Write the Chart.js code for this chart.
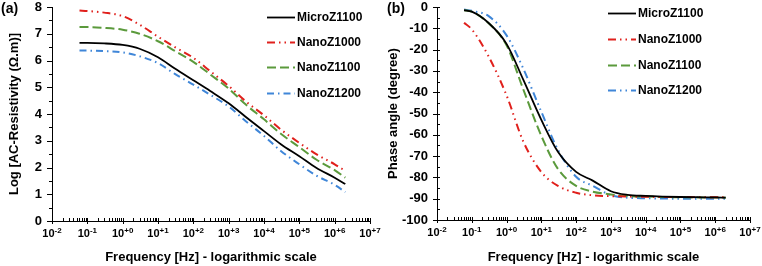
<!DOCTYPE html>
<html>
<head>
<meta charset="utf-8">
<script src="https://cdn.jsdelivr.net/npm/chart.js@4.4.0/dist/chart.umd.min.js"></script>
<style>
  html, body { margin: 0; padding: 0; background: #fff; }
  #wrap { position: relative; width: 762px; height: 266px; }
  .panel { position: absolute; top: 0; width: 381px; height: 266px; }
</style>
</head>
<body>
<div id="wrap">
  <div class="panel" style="left:0"><canvas id="chart-a" width="381" height="266"></canvas></div>
  <div class="panel" style="left:381px"><canvas id="chart-b" width="381" height="266"></canvas></div>
</div>
<script>
// Frequencies (Hz) the curves are sampled at
var frequency = [0.06, 0.1, 0.3, 1, 3, 10, 30, 100, 300, 1e3, 3e3, 1e4, 3e4, 1e5, 3e5, 1e6, 2e6];
// decade exponents shown on the x axis
var decades = [-2, -1, 0, 1, 2, 3, 4, 5, 6, 7];
var seriesNames = ['MicroZ1100', 'NanoZ1000', 'NanoZ1100', 'NanoZ1200'];

// (a) Log AC-resistivity
var resMicroZ1100 = [6.66, 6.66, 6.64, 6.58, 6.44, 6.12, 5.70, 5.26, 4.86, 4.40, 3.90, 3.36, 2.87, 2.42, 1.99, 1.62, 1.38];
var resNanoZ1000  = [7.87, 7.85, 7.79, 7.66, 7.34, 6.89, 6.50, 6.10, 5.60, 5.05, 4.48, 3.95, 3.42, 2.92, 2.50, 2.12, 1.87];
var resNanoZ1100  = [7.25, 7.25, 7.22, 7.15, 7.00, 6.72, 6.36, 5.95, 5.48, 4.95, 4.36, 3.80, 3.26, 2.76, 2.30, 1.90, 1.62];
var resNanoZ1200  = [6.37, 6.37, 6.35, 6.30, 6.16, 5.90, 5.50, 5.10, 4.72, 4.28, 3.74, 3.18, 2.62, 2.12, 1.70, 1.35, 1.08];

// (b) Phase angle
var phaseMicroZ1100 = [-1.5, -2.2, -7.4, -17.3, -34, -53, -68, -77.4, -81.5, -86.5, -88.2, -88.7, -89, -89.2, -89.3, -89.4, -89.5];
var phaseNanoZ1000  = [-7.4, -10.5, -23, -41.5, -63, -77.5, -84, -87.2, -88.4, -88.8, -89, -89.1, -89.2, -89.2, -89.3, -89.3, -89.3];
var phaseNanoZ1100  = [-1.5, -2.2, -7.5, -18, -38.5, -60.5, -76, -84, -86.7, -88, -88.7, -89, -89.2, -89.3, -89.4, -89.4, -89.5];
var phaseNanoZ1200  = [-1.2, -1.8, -4.2, -13.3, -28.8, -49.2, -67, -79.7, -84, -88.3, -89.5, -89.8, -89.9, -90, -90, -90, -90];

var FONT = 'Arial, "Liberation Sans", sans-serif';
var colors = ['#000000', '#e0201c', '#5b9a3c', '#3f86d8'];

function points(values) {
  return frequency.map(function (f, i) { return { x: f, y: values[i] }; });
}

function makeDatasets(series, dashes) {
  return series.map(function (values, i) {
    return {
      label: seriesNames[i],
      data: points(values),
      borderColor: colors[i],
      backgroundColor: colors[i],
      borderWidth: i === 0 ? 1.8 : 2,
      borderDash: dashes[i],
      borderCapStyle: 'butt',
      pointRadius: 0,
      cubicInterpolationMode: 'monotone',
      fill: false
    };
  });
}

// ticks, superscript tick labels, panel letter and legend inside the plot
var axisDecor = {
  id: 'axisDecor',
  afterDraw: function (chart, args, o) {
    var ctx = chart.ctx, xs = chart.scales.x, ys = chart.scales.y, a = chart.chartArea;
    ctx.save();
    ctx.strokeStyle = '#000';
    ctx.lineWidth = 1;
    ctx.setLineDash([]);
    ctx.beginPath();
    decades.forEach(function (e, i) {
      var px = Math.round(xs.getPixelForValue(Math.pow(10, e))) + 0.5;
      ctx.moveTo(px, a.bottom - 3); ctx.lineTo(px, a.bottom + 3);
      if (i < decades.length - 1) {
        for (var m = 2; m < 10; m++) {
          var mx = Math.round(xs.getPixelForValue(m * Math.pow(10, e))) + 0.5;
          ctx.moveTo(mx, a.bottom); ctx.lineTo(mx, a.bottom - 3);
        }
      }
    });
    var yt = ys.ticks;
    yt.forEach(function (t, i) {
      var py = Math.round(ys.getPixelForValue(t.value)) + 0.5;
      ctx.moveTo(a.left - o.yMajor[0], py); ctx.lineTo(a.left + o.yMajor[1], py);
      if (i < yt.length - 1) {
        var my = Math.round(ys.getPixelForValue((t.value + yt[i + 1].value) / 2)) + 0.5;
        ctx.moveTo(a.left - o.yMinor[0], my); ctx.lineTo(a.left + o.yMinor[1], my);
      }
    });
    ctx.stroke();

    // x tick labels: 10 with a raised exponent
    ctx.fillStyle = '#000';
    ctx.textAlign = 'left';
    ctx.textBaseline = 'alphabetic';
    decades.forEach(function (e) {
      var sup = (e < 0 ? '-' : '+') + Math.abs(e);
      ctx.font = 'bold 11px ' + FONT; var w1 = ctx.measureText('10').width;
      ctx.font = 'bold 8px ' + FONT; var w2 = ctx.measureText(sup).width;
      var left = xs.getPixelForValue(Math.pow(10, e)) - (w1 + w2) / 2;
      ctx.font = 'bold 11px ' + FONT; ctx.fillText('10', left, a.bottom + 16);
      ctx.font = 'bold 8px ' + FONT; ctx.fillText(sup, left + w1, a.bottom + 12);
    });

    // panel letter
    ctx.font = 'bold 14px ' + FONT;
    ctx.textBaseline = 'middle';
    ctx.fillText(o.panel, o.panelX, 9);

    // legend
    chart.data.datasets.forEach(function (ds, i) {
      var y = Math.round(o.legendTop + i * o.legendGap) + 0.5;
      ctx.strokeStyle = ds.borderColor;
      ctx.lineWidth = ds.borderWidth;
      ctx.setLineDash(ds.borderDash || []);
      ctx.beginPath();
      ctx.moveTo(o.legendX, y); ctx.lineTo(o.legendX + 28, y);
      ctx.stroke();
      ctx.setLineDash([]);
      ctx.fillStyle = '#000';
      ctx.font = 'bold 12px ' + FONT;
      ctx.fillText(ds.label, o.legendX + 30, y);
    });
    ctx.restore();
  }
};

function makeChart(id, cfg) {
  return new Chart(document.getElementById(id), {
    type: 'line',
    data: { datasets: cfg.datasets },
    plugins: [axisDecor],
    options: {
      responsive: false,
      animation: false,
      layout: { padding: { top: 0, right: cfg.padRight, left: 0, bottom: 0 } },
      plugins: {
        legend: { display: false },
        tooltip: { enabled: false },
        axisDecor: cfg.decor
      },
      scales: {
        x: {
          type: 'logarithmic',
          min: 0.01,
          max: 1e7,
          afterBuildTicks: function (s) {
            s.ticks = decades.map(function (e) { return { value: Math.pow(10, e) }; });
          },
          afterFit: function (s) {
            s.height = cfg.xHeight;
            s.paddingLeft = 0;
            s.paddingRight = 0;
          },
          ticks: { display: false },
          grid: { display: false, drawTicks: false },
          border: { display: true, color: '#000', width: 1 },
          title: {
            display: true,
            text: 'Frequency [Hz] - logarithmic scale',
            color: '#000',
            font: { family: FONT, size: 13, weight: 'bold' },
            padding: { top: 0, bottom: 1 }
          }
        },
        y: {
          min: cfg.yMin,
          max: cfg.yMax,
          afterFit: function (s) {
            s.width = cfg.yWidth;
            s.paddingTop = 7;
            s.paddingBottom = 0;
          },
          ticks: {
            stepSize: cfg.yStep,
            color: '#000',
            padding: cfg.yLabelPad,
            font: { family: FONT, size: 13, weight: 'bold' }
          },
          grid: { display: false, drawTicks: false },
          border: { display: true, color: '#000', width: 1 },
          title: {
            display: true,
            text: cfg.yTitle,
            color: '#000',
            font: { family: FONT, size: 13, weight: 'bold' },
            padding: { top: cfg.yTitlePad, bottom: 0 }
          }
        }
      }
    }
  });
}

makeChart('chart-a', {
  datasets: makeDatasets(
    [resMicroZ1100, resNanoZ1000, resNanoZ1100, resNanoZ1200],
    [[], [8, 4, 1.5, 4, 1.5, 4], [9, 4], [7, 4, 1.5, 4]]
  ),
  yMin: 0, yMax: 8, yStep: 1,
  yTitle: 'Log [AC-Resistivity (\u03A9.m)]',
  yWidth: 52, yLabelPad: 10, yTitlePad: 7,
  xHeight: 45, padRight: 11,
  decor: {
    panel: '(a)', panelX: 1,
    yMajor: [5, 0], yMinor: [3, 0],
    legendX: 267, legendTop: 17, legendGap: 25.2
  }
});

makeChart('chart-b', {
  datasets: makeDatasets(
    [phaseMicroZ1100, phaseNanoZ1000, phaseNanoZ1100, phaseNanoZ1200],
    [[], [8, 4, 1.5, 4, 1.5, 4], [9, 4], [8, 4, 1.5, 4, 1.5, 4]]
  ),
  yMin: -100, yMax: 0, yStep: 10,
  yTitle: 'Phase angle (degree)',
  yWidth: 56, yLabelPad: 9, yTitlePad: 5,
  xHeight: 46, padRight: 12,
  decor: {
    panel: '(b)', panelX: 6,
    yMajor: [4, 3], yMinor: [0, 3],
    legendX: 227, legendTop: 13, legendGap: 25.8
  }
});
</script>
</body>
</html>
